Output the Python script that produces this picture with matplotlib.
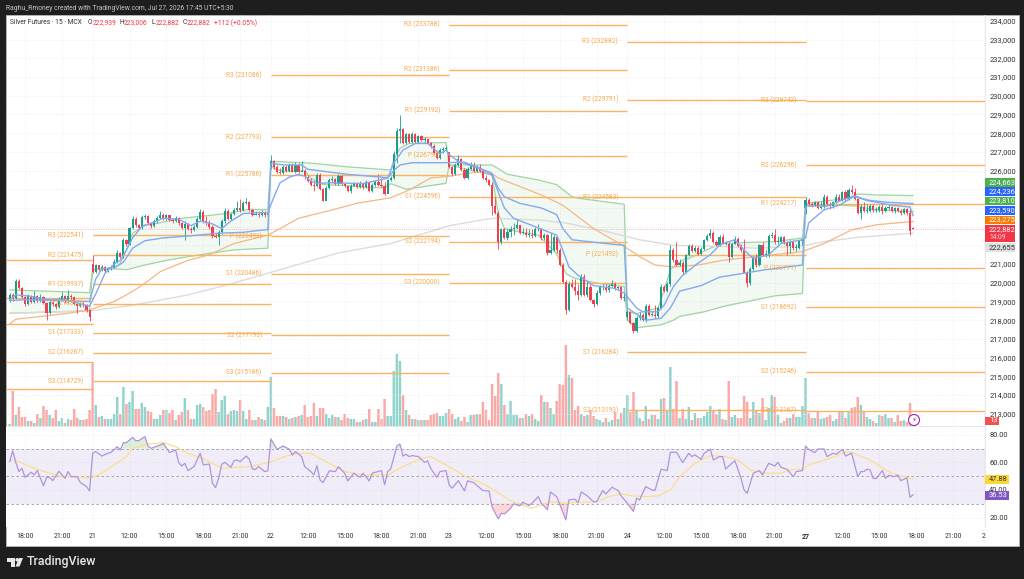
import numpy as np
import matplotlib
matplotlib.use('Agg')
import matplotlib.pyplot as plt
from matplotlib.patches import Rectangle, Polygon, Ellipse

W, H = 1024, 579
plt.rcParams['font.family'] = ['Roboto', 'DejaVu Sans']

# candles, thousands of rupees, 15 min bars. rows follow the sessions
closes = [
    219.35,219.2,220.1,219.7,219.25,218.85,219.3,218.95,219.3,219.0,
    219.25,218.9,218.4,218.95,218.85,218.7,219.15,219.3,219.0,219.3,
    219.25,218.85,218.75,218.85,218.8,218.55,218.15,
    220.6,220.95,220.75,220.85,220.65,220.75,220.85,221.1,221.6,221.4,
    222.3,222.05,222.95,223.4,223.1,222.95,223.5,223.55,223.2,223.05,
    223.3,223.45,223.65,223.45,223.6,223.35,223.3,223.45,223.2,222.95,
    223.15,222.85,222.8,223.0,223.4,223.8,223.3,223.2,223.0,222.5,
    222.45,222.7,223.3,223.85,223.4,223.7,223.9,224.0,223.9,224.25,
    224.3,223.9,223.65,223.7,223.6,223.75,223.6,223.75,
    226.5,226.2,225.95,225.85,226.2,226.0,226.3,225.95,226.3,225.95,
    226.0,225.65,225.45,225.25,225.2,225.75,225.0,224.4,225.05,225.5,
    225.55,225.3,225.7,225.3,225.15,224.9,225.2,225.3,225.1,225.35,
    225.1,225.4,224.9,225.25,225.4,225.25,225.2,224.75,225.5,225.6,
    226.9,228.1,228.25,227.45,227.95,227.55,227.95,227.55,227.85,227.65,
    227.7,227.45,227.3,226.95,226.65,227.1,227.15,227.2,
    226.2,225.8,226.3,226.6,226.05,225.6,226.1,226.3,226.0,226.2,
    226.0,225.6,225.5,225.25,
    224.1,223.75,222.2,222.85,222.4,222.7,
    222.9,222.95,223.1,222.65,222.65,222.55,222.55,222.5,222.85,222.9,
    222.4,222.55,221.6,221.75,222.45,221.75,220.95,220.05,218.55,219.95,
    219.8,219.55,219.35,220.3,219.35,219.8,219.1,218.85,219.45,219.75,
    219.8,219.6,219.85,219.95,219.7,219.75,219.2,219.2,
    218.45,217.85,217.4,218.1,218.3,218.0,218.75,218.3,218.3,218.2,
    218.65,219.8,219.55,219.95,221.75,221.2,220.95,221.05,220.6,221.5,
    221.95,221.7,221.85,221.55,221.8,222.3,222.5,222.65,222.2,222.0,
    222.45,222.1,222.1,221.4,222.1,222.35,221.95,221.75,220.55,220.0,
    220.75,221.35,220.95,222.0,221.5,221.5,222.5,222.55,222.2,222.2,
    222.45,222.15,221.95,222.2,221.85,221.85,222.25,222.35,
    224.45,224.2,224.15,224.3,224.0,224.05,224.6,224.2,224.1,224.3,
    224.6,224.4,224.85,224.5,224.95,224.85,224.5,223.75,224.05,223.85,
    223.85,224.1,223.9,223.9,224.05,223.85,224.0,224.05,223.85,224.0,
    223.85,223.75,223.95,223.75,222.75,222.882,
]
highs = [
    219.45,219.45,220.2,220.2,219.75,219.3,219.4,219.35,219.55,219.35,
    219.4,219.3,218.95,219.05,219.05,218.9,219.25,219.5,219.35,219.6,
    219.4,219.3,218.9,218.95,218.95,218.85,218.55,
    221.5,221.0,220.95,220.95,220.9,220.85,220.95,221.25,221.75,221.65,
    222.4,222.35,223.0,223.55,223.5,223.15,223.6,223.7,223.6,223.25,
    223.4,223.55,223.85,223.75,223.7,223.65,223.45,223.55,223.5,223.25,
    223.3,223.2,223.0,223.1,223.5,223.95,223.9,223.55,223.35,223.1,
    222.65,222.8,223.4,224.0,223.95,223.75,224.0,224.35,224.5,224.35,
    224.55,224.4,223.95,223.85,223.85,223.9,223.85,223.9,
    226.85,226.55,226.3,226.15,226.3,226.3,226.4,226.4,226.45,226.4,
    226.5,226.1,225.75,225.6,225.5,225.85,225.85,225.05,225.15,225.6,
    225.7,225.6,225.8,225.75,225.35,225.2,225.3,225.4,225.4,225.45,
    225.4,225.5,225.45,225.35,225.5,225.8,225.6,225.4,225.55,225.7,
    227.05,228.3,228.95,228.3,228.0,228.0,228.05,228.0,227.9,227.9,
    227.8,227.7,227.55,227.4,227.05,227.2,227.25,227.3,
    227.0,226.25,226.4,226.85,226.65,226.15,226.2,226.45,226.45,226.3,
    226.35,226.05,225.75,225.55,
    225.4,224.6,223.85,222.95,222.95,222.85,
    223.05,223.2,223.4,223.05,222.95,222.95,222.85,222.9,223.0,223.15,
    222.95,222.65,222.6,222.65,222.55,222.5,221.85,221.05,220.15,220.1,
    220.2,220.2,219.95,220.45,220.45,220.1,219.95,219.15,219.6,219.9,
    219.95,219.95,219.95,220.15,220.05,219.85,219.8,219.4,
    218.55,218.5,217.9,218.2,218.45,218.4,218.85,218.85,218.5,218.8,
    218.75,219.95,219.9,220.05,222.0,221.85,222.2,221.25,221.15,221.55,
    222.05,222.05,221.95,221.95,221.9,222.35,222.6,222.85,222.75,222.3,
    222.55,222.6,222.25,222.2,222.15,222.5,222.45,222.1,222.35,220.65,
    220.85,221.45,221.55,222.1,222.2,221.75,222.6,222.7,222.9,222.5,
    222.5,222.5,222.25,222.3,222.3,222.1,222.3,222.4,
    224.6,224.55,224.3,224.35,224.4,224.4,224.75,224.7,224.3,224.4,
    224.75,224.75,224.9,224.95,225.05,225.25,225.05,224.55,224.2,224.3,
    224.2,224.2,224.2,224.05,224.15,224.2,224.1,224.15,224.1,224.05,
    224.05,223.95,224.0,224.0,223.95,223.006,
]
lows = [
    218.95,219.05,219.15,219.65,219.2,218.75,218.8,218.9,218.9,218.95,
    218.95,218.85,218.0,218.35,218.75,218.6,218.65,219.1,218.9,218.9,
    219.1,218.8,218.4,218.7,218.7,218.45,217.95,
    220.55,220.55,220.65,220.65,220.55,220.6,220.7,220.8,221.05,221.3,
    221.35,221.95,222.0,222.85,223.0,222.85,222.9,223.4,223.1,222.95,
    223.0,223.2,223.4,223.35,223.35,223.3,223.2,223.25,223.1,222.9,
    222.3,222.8,222.65,222.75,222.95,223.35,223.2,223.1,222.9,222.4,
    222.4,222.0,222.6,223.2,223.35,223.35,223.65,223.85,223.8,223.85,
    224.2,223.85,223.55,223.6,223.5,223.55,223.5,223.55,
    226.1,226.1,225.85,225.8,225.8,225.95,225.95,225.9,225.85,225.85,
    225.9,225.55,225.4,225.2,224.9,225.1,224.95,224.35,224.75,225.0,
    225.4,225.25,225.25,225.25,225.1,224.85,224.8,225.15,225.05,225.05,
    225.0,225.05,224.85,224.85,225.2,225.2,225.1,224.7,224.9,225.45,
    225.55,226.4,227.5,227.4,227.4,227.5,227.5,227.5,227.5,227.6,
    227.55,227.4,227.2,226.9,226.6,226.6,226.95,227.1,
    226.15,225.7,225.75,226.25,226.0,225.55,225.55,226.05,225.95,225.95,
    225.95,225.55,225.4,225.15,
    223.65,223.7,221.8,222.1,222.35,222.3,
    222.45,222.55,222.9,222.6,222.6,222.45,222.45,222.4,222.45,222.75,
    222.3,222.3,221.5,221.55,221.7,221.6,220.9,220.0,218.35,218.5,
    219.7,219.35,219.1,219.3,219.3,219.25,219.05,218.7,218.8,219.35,
    219.6,219.5,219.5,219.75,219.6,219.6,219.15,219.0,
    218.0,217.8,217.3,217.35,218.0,217.95,217.9,218.25,218.2,218.1,
    218.1,218.6,219.5,219.5,219.85,221.1,220.9,220.9,220.4,220.55,
    221.45,221.65,221.65,221.5,221.5,221.75,222.25,222.4,222.15,221.95,
    221.95,222.05,222.0,221.1,221.35,222.05,221.9,221.65,220.5,219.8,
    219.9,220.7,220.85,220.9,221.45,221.4,221.4,222.4,222.1,222.1,
    222.15,222.1,221.5,221.6,221.75,221.7,221.8,222.0,
    223.7,224.1,224.05,224.1,223.95,223.95,224.0,224.1,223.95,224.0,
    224.25,224.35,224.35,224.4,224.45,224.75,224.45,223.7,223.4,223.8,
    223.75,223.8,223.8,223.8,223.8,223.7,223.8,223.9,223.8,223.75,
    223.8,223.65,223.7,223.65,222.56,222.882,
]
# opens that do not sit on the previous close
open_gaps = {0: 219.0, 27: 221.0, 85: 226.2, 143: 227.0, 201: 218.15, 259: 224.0, 294: 222.939}

# volume, read as bar height
volumes = [
    2,35,11,19,9,9,5,5,3,12,8,20,16,11,8,16,5,8,3,7,6,17,8,6,6,7,16,
    63,21,9,10,7,7,7,12,29,12,39,22,24,35,17,17,23,19,15,14,
    7,7,11,16,16,13,16,6,11,14,28,16,7,7,21,22,19,15,16,32,
    37,14,26,30,12,15,16,15,26,15,7,16,6,6,9,7,6,19,
    49,18,10,10,10,9,7,8,9,10,11,21,9,10,23,10,18,18,12,8,11,9,9,
    6,12,8,7,7,4,4,6,7,17,4,4,17,7,27,10,10,55,72,65,31,16,11,7,7,6,6,6,6,11,12,13,10,10,13,
    17,12,7,9,5,9,4,11,11,12,12,24,16,6,42,30,53,42,21,12,25,11,11,8,8,12,10,12,7,5,
    31,24,24,18,12,25,42,41,81,51,48,16,20,12,10,11,16,10,7,6,4,8,4,6,14,7,13,18,
    31,14,34,16,8,5,20,7,11,11,7,27,28,16,59,17,45,
    8,17,7,19,6,13,8,8,10,14,20,16,12,17,7,6,45,9,11,8,8,30,24,8,24,16,13,28,6,18,31,29,11,3,5,8,8,12,9,9,20,
    48,13,8,8,15,7,8,9,11,5,7,14,15,8,15,18,19,29,21,14,9,7,5,3,11,10,12,8,8,4,11,5,6,4,23,3,
]

# moving lines: bar index and value at the corners
fast_bars = [0,2,6,12,18,26,28,31,34,36,38,40,43,47,50,55,59,62,66,69,72,76,80,84,86,88,91,94,96,98,100,104,115,123,125,128,132,136,140,142,
             143,146,153,157,159,161,164,171,178,180,182,185,190,197,200,204,206,211,213,216,219,224,228,231,232,236,239,242,247,251,258,259,260,265,270,275,279,287,293,294]
fast_vals = [219.1,219.35,219.3,219.1,219.1,218.75,219.4,220.5,221.0,221.2,221.75,222.4,223.0,223.25,223.45,223.4,223.05,223.3,223.15,222.9,223.3,223.7,223.75,223.75,224.6,225.35,225.65,225.8,225.7,225.45,225.3,225.35,225.3,225.6,226.4,227.1,227.45,227.45,226.9,227.1,
             226.85,226.5,226.1,225.75,224.85,224.0,223.45,223.0,222.55,221.75,220.85,220.4,219.85,219.7,219.45,218.65,218.45,218.45,218.8,219.8,220.4,221.05,221.5,222.0,222.1,222.3,221.75,221.3,221.5,222.1,222.3,222.4,223.2,223.9,224.15,224.65,224.4,224.15,224.05,223.59]
slow_bars = [0,5,15,26,28,30,34,37,40,44,50,58,68,76,84,85,89,95,97,110,123,125,127,131,141,
             143,148,152,157,159,161,166,173,178,180,183,194,200,201,207,212,215,218,225,231,246,258,259,266,272,275,280,286,294]
slow_vals = [219.05,219.1,219.05,219.0,220.2,220.75,220.8,221.1,221.85,222.25,222.4,222.5,222.65,222.7,222.85,226.4,226.3,226.3,226.07,225.8,225.62,226.0,226.3,226.42,226.42,
             226.43,226.45,226.2,225.85,225.05,224.6,224.25,224.0,223.65,222.9,222.3,222.1,222.0,218.65,218.0,218.1,218.65,219.55,219.85,220.3,220.7,220.95,224.1,224.1,224.5,224.6,224.4,224.3,224.236]
upper_bars = [0,26,27,34,36,38,40,44,48,56,66,71,78,84,85,98,110,124,125,127,130,142,
              143,152,157,159,162,172,178,183,186,200,201,204,206,211,213,215,217,220,221,228,232,239,249,258,259,272,276,282,294]
upper_vals = [219.62,219.47,220.7,220.78,221.05,221.76,222.65,223.1,223.18,223.45,223.62,223.72,223.93,223.9,226.5,226.4,226.2,226.03,226.57,227.2,227.46,227.5,
              226.3,226.3,226.3,226.1,225.8,225.5,225.25,224.6,224.5,224.2,218.45,218.35,218.45,218.65,219.6,220.7,221.0,221.3,221.3,221.85,222.1,222.15,222.2,222.4,224.25,224.5,224.75,224.7,224.663]
lower_bars = [0,26,27,34,38,44,51,62,73,84,85,86,89,96,98,102,109,116,122,124,129,142,
              143,157,159,161,165,172,178,181,183,186,194,200,201,204,212,216,218,226,232,234,249,258,259,270,276,281,294]
lower_vals = [218.37,218.5,220.7,220.75,220.7,220.95,221.2,221.5,221.76,221.85,226.3,226.1,225.95,226.0,225.6,225.25,225.2,225.1,225.08,225.3,225.0,225.32,
              226.3,225.75,223.7,222.9,222.75,222.55,221.55,220.5,220.3,220.15,219.9,219.8,218.0,217.6,217.75,218.0,218.2,218.45,218.72,218.8,219.3,219.43,224.15,224.15,224.1,223.9,223.81]
ma_bars = [0,2,19,26,34,39,44,49,58,65,73,84,88,94,105,113,124,130,137,143,151,156,159,173,180,190,200,205,210,216,224,232,243,258,265,274,282,292,294]
ma_vals = [217.8,218.05,218.37,218.55,219.0,219.44,219.97,220.6,221.2,221.5,222.1,222.55,222.9,223.45,223.9,224.25,224.55,224.96,225.6,225.7,225.9,225.95,225.6,224.7,224.15,222.9,221.95,221.4,220.95,220.85,220.95,221.2,221.4,221.67,222.1,222.83,223.1,223.25,223.275]
long_bars = [0,26,40,58,71,88,107,124,143,155,158,173,181,194,205,216,231,243,258,265,276,294]
long_vals = [218.37,218.5,218.8,219.35,219.9,220.7,221.6,222.1,223.05,223.4,223.45,223.35,223.2,222.75,222.3,222.0,221.95,221.85,221.97,222.2,222.43,222.655]

# RSI pane
rsi_bars = [0,1,2,3,4,5,7,8,9,11,12,13,14,16,18,19,20,22,23,25,26,27,28,30,32,33,35,36,37,38,40,41,42,44,45,46,48,49,50,52,54,55,56,57,58,60,62,63,65,66,67,68,69,70,72,73,74,75,77,78,79,80,81,83,84,85,87,89,91,92,93,95,96,98,99,100,101,102,104,106,107,109,110,112,114,115,117,118,121,122,123,124,126,127,128,129,130,131,133,135,136,137,139,140,142,143,144,146,148,149,151,154,156,157,159,160,161,163,
            164,166,167,169,170,172,173,175,176,178,181,182,184,185,186,188,190,191,193,194,196,198,199,201,203,204,205,207,209,210,212,214,215,217,219,221,222,223,225,226,228,229,231,232,233,236,238,239,240,242,244,245,247,249,250,251,253,255,256,258,259,260,262,263,265,266,268,269,271,272,274,276,277,278,279,280,281,282,284,285,286,288,289,290,292,293,294]
rsi_vals = [60.6,68.4,59.9,53.4,55.8,49.2,52.9,51,54.1,43,49.2,49.2,46.8,53.6,48.5,53.4,49.7,49.7,45.4,42.5,39.3,66.7,67.9,64.7,66.7,67.4,71.5,69.1,74.4,74.4,78.3,75.9,75.9,78.8,72,70.3,72,72.7,73.9,67.2,69.1,59.9,57.5,59.4,54.1,57,66.7,58.2,58.9,44.9,41.7,48.5,58.7,60.1,56.5,61.3,61.8,60.6,64.7,62.3,55.3,55,57,53.4,53.9,77.1,69.6,72,69.6,65.5,67.9,64.3,57,53.4,51,57.7,47.3,45.4,53.9,53.4,57,52.2,46.6,52.2,49.2,52.2,46.6,52.2,54.1,43.7,53.4,55.3,72,73.5,64.7,66,64.3,65,64.3,60.1,61.1,55.8,49.2,53.4,54.1,43.7,41.3,46.8,39.3,46.6,45.4,39.6,39.3,27.5,19,23.1,22.6,26.7,
            29.9,28.5,31.1,28.7,30.4,35.2,30.4,25.6,38.6,35.2,18.3,32.8,33.3,30.9,38.6,35.7,31.4,31.6,39.6,37.1,42,39.6,35.7,30.4,24.4,34,32.8,42.5,40,39.6,55.1,54.1,67.4,67.4,59.9,66.7,64.3,65.5,62.3,66.7,69.6,61.8,64.3,64.3,55.3,61.3,48.5,40,37.6,52.2,54.1,51,59.4,57.5,60.1,56.5,55,49.7,53.4,54.1,72,69.6,67.2,69.8,69.8,64.3,66.7,66,69.6,64.7,66.7,49.7,53.4,53.4,55.1,54.6,48.5,48.3,54.1,48.5,50.7,49.7,50.9,46.8,48.8,34.7,36.53]
rsi_ma_bars = [0,2,8,13,17,22,26,29,34,38,40,45,50,54,58,64,69,73,78,83,85,90,94,98,103,109,115,123,128,134,137,142,149,155,163,170,176,181,186,191,195,199,203,207,211,215,218,223,228,233,237,241,246,251,254,258,261,268,272,274,280,287,294]
rsi_ma_vals = [61.8,61.4,55.8,52.2,49.7,49.7,48.5,51,58.2,64.3,70.3,73.5,74.4,71.5,66.7,61.8,55.8,56.3,57,59.4,60.6,64.7,66.7,66.7,60.6,53.4,51,51,57,63,64.3,58.2,49.2,43.7,32.1,26.7,31.6,30.4,31,31.6,35.2,37.1,35.7,35.2,35.7,40,49.7,59.4,65,64.3,61.8,54.6,52.2,52.2,54.6,55.3,58.9,63.8,67.4,67.4,61.8,52.2,47.88]

# pivot levels per session: first bar, last bar, labels, values
pivot_a_vals = [221.24, 219.2, 217.8, 215.75, 214.34]
pivot_b_names = ['R3', 'R2', 'R1', 'P', 'S1', 'S2', 'S3']
pivot_b_vals = [222541, 221475, 219937, 218870, 217333, 216267, 214729]
pivot_c_names = ['R3', 'R2', 'R1', 'P', 'S1', 'S2', 'S3']
pivot_c_vals = [231086, 227793, 225786, 222493, 220486, 217193, 215186]
pivot_d_names = ['R3', 'R2', 'R1', 'P', 'S1', 'S2', 'S3']
pivot_d_vals = [233788, 231386, 229192, 226790, 224596, 222194, 220000]
pivot_e_names = ['R3', 'R2', 'R1', 'P', 'S1', 'S2']
pivot_e_vals = [232882, 229791, 224583, 221492, 216284, 213193]
pivot_f_names = ['R3', 'R2', 'R1', 'P', 'S1', 'S2', 'S3']
pivot_f_vals = [229742, 226296, 224217, 220771, 218692, 215246, 213167]

# time axis
time_ticks = [5,17,27,39,51,63,75,85,97,109,121,133,143,155,167,179,191,201,213,225,237,249,259,271,283,295,307,317]
time_labels = ['18:00','21:00','21','12:00','15:00','18:00','21:00','22','12:00','15:00','18:00','21:00','23','12:00','15:00','18:00','21:00','24','12:00','15:00','18:00','21:00','27','12:00','15:00','18:00','21:00','2']
price_ticks = [213,214,215,216,217,218,219,220,221,226,227,228,229,230,231,232,233,234]
rsi_ticks = [20, 40, 60, 80]

closes = np.array(closes)
highs = np.array(highs)
lows = np.array(lows)
opens = np.r_[closes[0], closes[:-1]]
for k, v in open_gaps.items():
    opens[k] = v
bars = np.arange(len(closes))
up = closes >= opens


def fx(x):
    return x / W


def fy(y):
    return 1 - y / H


def pane(x0, y0, x1, y1):
    return [fx(x0), fy(y1), (x1 - x0) / W, (y1 - y0) / H]


def pill(y0, y1, x1, txt, bg, fg='white', sub=None):
    fig.patches.append(Rectangle((fx(985), fy(y1)), (x1 - 985) / W, (y1 - y0) / H,
                                 transform=fig.transFigure, fc=bg, ec='none', zorder=5))
    if sub:
        fig.text(fx(989), fy(y0 + 5), txt, color=fg, fontsize=5.4, va='center', zorder=6)
        fig.text(fx(989), fy(y0 + 12.5), sub, color=fg, fontsize=4.8, va='center', zorder=6, alpha=0.85)
    else:
        fig.text(fx(989), fy((y0 + y1) / 2), txt, color=fg, fontsize=5.4, va='center', zorder=6)


fig = plt.figure(figsize=(W / 100, H / 100), dpi=100, facecolor='#1e1e1e')
fig.patches.append(Rectangle((fx(5.5), fy(545.5)), (1018.5 - 5.5) / W, (545.5 - 14.5) / H,
                             transform=fig.transFigure, fc='white', ec='#b8b8b8', lw=0.6, zorder=-1))

xlim = (-1.2, 317.4)
price_lim = (212.342, 234.32)

ax_vol = fig.add_axes(pane(6, 15, 985, 426), zorder=1)
ax = fig.add_axes(pane(6, 15, 985, 426), zorder=2, sharex=ax_vol)
ax_rsi = fig.add_axes(pane(6, 427, 985, 527), zorder=2)

# volume
vol_bars = ax_vol.bar(bars, volumes, width=0.8, color=np.where(up, '#92d3cc', '#f9a9a7'), linewidth=0)
for b in vol_bars:
    b.set_snap(False)
ax_vol.set_ylim(0, 411)
ax_vol.set_xlim(*xlim)
ax_vol.axis('off')

# price pane
ax.patch.set_visible(False)
ax.set_xlim(*xlim)
ax.set_ylim(*price_lim)
ax.set_yticks(price_ticks)
ax.set_yticklabels([f'{p},000' for p in price_ticks], fontsize=5.4, color='#303030')
ax.yaxis.tick_right()
ax.tick_params(axis='y', length=0, pad=3)
ax.tick_params(axis='x', length=0, labelbottom=False)
ax.set_xticks(time_ticks)
ax.set_axisbelow(True)
ax.grid(True, ls=':', lw=0.5, color='#e6e8ee')
ax.set_yticks(np.arange(213, 235), minor=True)
ax.grid(True, which='minor', axis='y', ls=':', lw=0.5, color='#e6e8ee')
ax.tick_params(axis='y', which='minor', length=0)
for s in ax.spines.values():
    s.set_visible(False)
ax.spines['right'].set_visible(True)
ax.spines['right'].set_color('#e4e4e4')
ax.spines['right'].set_linewidth(0.6)
ax.spines['bottom'].set_visible(True)
ax.spines['bottom'].set_color('#e4e4e4')
ax.spines['bottom'].set_linewidth(0.6)

# band fill
grid_x = np.arange(0, 294.01, 0.1)
ax.fill_between(grid_x, np.interp(grid_x, lower_bars, lower_vals), np.interp(grid_x, upper_bars, upper_vals),
                color='#4caf50', alpha=0.07, lw=0, zorder=1)
ax.plot(upper_bars, upper_vals, color='#a0d4a2', lw=0.9, zorder=2)
ax.plot(lower_bars, lower_vals, color='#a0d4a2', lw=0.9, zorder=2)
ax.plot(long_bars, long_vals, color='#dcdcdc', lw=1.0, zorder=2)
ax.plot(ma_bars, ma_vals, color='#f7b684', lw=0.9, zorder=2)

# pivots
orange = '#fbb362'
last_bar = xlim[1]
ax.hlines(pivot_a_vals, xlim[0], 27, color=orange, lw=1.0, zorder=3)
sessions = [(27, 85, pivot_b_names, pivot_b_vals), (85, 143, pivot_c_names, pivot_c_vals),
            (143, 201, pivot_d_names, pivot_d_vals), (201, 259, pivot_e_names, pivot_e_vals),
            (259, last_bar, pivot_f_names, pivot_f_vals)]
for start, end, names, vals in sessions:
    for name, val in zip(names, vals):
        ax.hlines(val / 1000, start, end, color=orange, lw=1.0, zorder=3)
        ax.text(start - 3, val / 1000, f'{name} ({val})', color='#f8a94e', fontsize=4.7,
                ha='right', va='center', zorder=7)

# current price
ax.axhline(222.882, color='#f4a0a6', lw=0.6, ls=':', zorder=3)

# candles
col = np.where(up, '#1a9d8a', '#f23f4e')
ax.vlines(bars, lows, highs, color=col, lw=0.6, zorder=4)
ax.bar(bars, np.maximum(np.abs(closes - opens), 0.04), bottom=np.minimum(opens, closes), width=0.7,
       color=col, linewidth=0, zorder=4)

ax.plot(slow_bars, slow_vals, color='#84a9f2', lw=1.0, zorder=5)
ax.plot(fast_bars, fast_vals, color='#84a9f2', lw=1.0, zorder=5)

# RSI
ax_rsi.set_xlim(*xlim)
ax_rsi.set_ylim(13.1, 85.8)
ax_rsi.axhspan(30, 70, color='#7e57c2', alpha=0.1, lw=0, zorder=1)
for lev in (70, 50, 30):
    ax_rsi.axhline(lev, color='#9b9ba3', lw=0.6, ls=(0, (3, 3)), zorder=2)
rsi_x = np.arange(0, 294.01, 0.1)
rsi_y = np.interp(rsi_x, rsi_bars, rsi_vals)
ax_rsi.fill_between(rsi_x, 70, rsi_y, where=rsi_y > 70, color='#4caf50', alpha=0.2, lw=0, zorder=2)
ax_rsi.fill_between(rsi_x, 30, rsi_y, where=rsi_y < 30, color='#f23645', alpha=0.2, lw=0, zorder=2)
ax_rsi.plot(rsi_ma_bars, rsi_ma_vals, color='#fbdf8c', lw=0.9, zorder=3)
ax_rsi.plot(rsi_bars, rsi_vals, color='#ae94de', lw=0.9, zorder=4)
ax_rsi.set_yticks(rsi_ticks)
ax_rsi.set_yticklabels([f'{r:.2f}' for r in rsi_ticks], fontsize=5.4, color='#303030')
ax_rsi.yaxis.tick_right()
ax_rsi.set_xticks(time_ticks)
ax_rsi.set_xticklabels(time_labels, fontsize=5.0, color='#303030')
for lab, txt in zip(ax_rsi.get_xticklabels(), time_labels):
    if txt == '27':
        lab.set_fontweight('bold')
ax_rsi.tick_params(axis='both', length=0)
ax_rsi.tick_params(axis='y', pad=3)
ax_rsi.tick_params(axis='x', pad=4.5)
ax_rsi.grid(True, ls=':', lw=0.5, color='#e6e8ee')
ax_rsi.set_axisbelow(True)
for s in ax_rsi.spines.values():
    s.set_visible(False)
ax_rsi.spines['right'].set_visible(True)
ax_rsi.spines['right'].set_color('#e4e4e4')
ax_rsi.spines['right'].set_linewidth(0.6)

# price pills
pill(178, 187, 1015, '224,663', '#4caf50')
pill(187, 196, 1015, '224,236', '#2962ff')
pill(197, 205, 1015, '223,810', '#4caf50')
pill(206, 215, 1015, '223,590', '#2962ff')
pill(216, 224, 1015, '223,275', '#f57c00')
pill(225, 242, 1015, '222,882', '#f23645', sub='14:09')
pill(243, 252, 1015, '222,655', '#e0e0e0', fg='#303030')
pill(417, 425, 999, '13', '#ef5350')
pill(475, 484, 1009, '47.88', '#fdd835', fg='#303030')
pill(491, 500, 1009, '36.53', '#7e57c2')

# lightning badge
fig.patches.append(Ellipse((fx(914), fy(420)), 11 / W, 11 / H, transform=fig.transFigure, fc='white', ec='#9c27b0', lw=0.8, zorder=6))
fig.text(fx(914), fy(420), '\u26a1', color='#9c27b0', fontsize=5, family='DejaVu Sans', ha='center', va='center', zorder=7)

# header and legend
fig.text(fx(6), fy(8), 'Raghu_Rmoney created with TradingView.com, Jul 27, 2026 17:45 UTC+5:30',
         color='#c8c8c8', fontsize=4.9, va='center')
legend_parts = [(10, 'Silver Futures \u00b7 15 \u00b7 MCX', '#303030'), (88, 'O', '#303030'), (92.5, '222,939', '#f23645'),
                (119.5, 'H', '#303030'), (124, '223,006', '#f23645'), (152, 'L', '#303030'), (155.5, '222,882', '#f23645'),
                (183, 'C', '#303030'), (187, '222,882', '#f23645'), (214, '+112 (+0.05%)', '#f23645')]
for x, txt, c in legend_parts:
    fig.text(fx(x), fy(23), txt, color=c, fontsize=4.8, va='center')

# logo
fig.patches.append(Polygon([(fx(7), fy(558)), (fx(15), fy(558)), (fx(15), fy(566.5)), (fx(11), fy(566.5)), (fx(11), fy(561.5)), (fx(7), fy(561.5))],
                           transform=fig.transFigure, fc='#e8e8e8', ec='none'))
fig.patches.append(Ellipse((fx(17.2), fy(559.8)), 3.6 / W, 3.6 / H, transform=fig.transFigure, fc='#e8e8e8', ec='none'))
fig.patches.append(Polygon([(fx(19), fy(558)), (fx(23), fy(558)), (fx(19.5), fy(566.5)), (fx(15.5), fy(566.5))],
                           transform=fig.transFigure, fc='#e8e8e8', ec='none'))
fig.text(fx(27), fy(562), 'TradingView', color='#e8e8e8', fontsize=8.9, va='center', fontweight='medium')

fig.savefig('out.png', dpi=100, facecolor=fig.get_facecolor())
